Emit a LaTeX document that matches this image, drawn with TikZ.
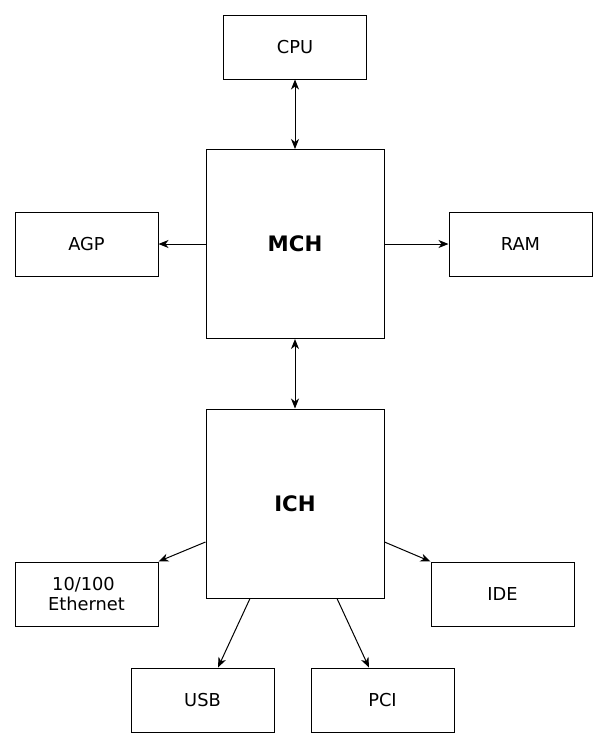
\documentclass[tikz,border=0pt]{standalone}
\usepackage{fontspec}
\setmainfont{DejaVu Sans}
\usetikzlibrary{arrows.meta}
\begin{document}
\begin{tikzpicture}[x=1pt,y=-1pt,
  box/.style={draw,line width=1pt,inner sep=0pt,align=center,font=\fontsize{17.8}{20.5}\selectfont},
  bigbox/.style={box,font=\fontsize{21.3}{25}\selectfont\bfseries},
  conn/.style={line width=1pt,-{Stealth[length=10pt,width=8pt,inset=3pt]}},
  bconn/.style={line width=1pt,{Stealth[length=10pt,width=8pt,inset=3pt]}-{Stealth[length=10pt,width=8pt,inset=3pt]}}]
\useasboundingbox (0,0) rectangle (608,748);
\node[box,minimum width=143pt,minimum height=64pt] (cpu) at (295,47) {CPU};
\node[bigbox,minimum width=178pt,minimum height=189pt] (mch) at (295,244) {MCH};
\node[box,minimum width=143pt,minimum height=64pt] (agp) at (86.5,244) {AGP};
\node[box,minimum width=143pt,minimum height=64pt] (ram) at (520.5,244) {RAM};
\node[bigbox,minimum width=178pt,minimum height=189pt] (ich) at (295,503.5) {ICH};
\node[box,minimum width=143pt,minimum height=64pt] (eth) at (86.5,594) {10/100\rule{6pt}{0pt}\\Ethernet};
\node[box,minimum width=143pt,minimum height=64pt] (ide) at (502.5,594) {IDE};
\node[box,minimum width=143pt,minimum height=64pt] (usb) at (202.5,700) {USB};
\node[box,minimum width=143pt,minimum height=64pt] (pci) at (382.5,700) {PCI};
\draw[bconn] (cpu.south) -- (mch.north);
\draw[bconn] (mch.south) -- (ich.north);
\draw[conn] (mch.west) -- (agp.east);
\draw[conn] (mch.east) -- (ram.west);
\draw[conn] (ich.west |- 0,542) -- (eth.north east);
\draw[conn] (ich.east |- 0,542) -- (ide.north west);
\draw[conn] (ich.south -| 250,0) -- (usb.north -| 218,0);
\draw[conn] (ich.south -| 337,0) -- (pci.north -| 369,0);
\end{tikzpicture}
\end{document}
